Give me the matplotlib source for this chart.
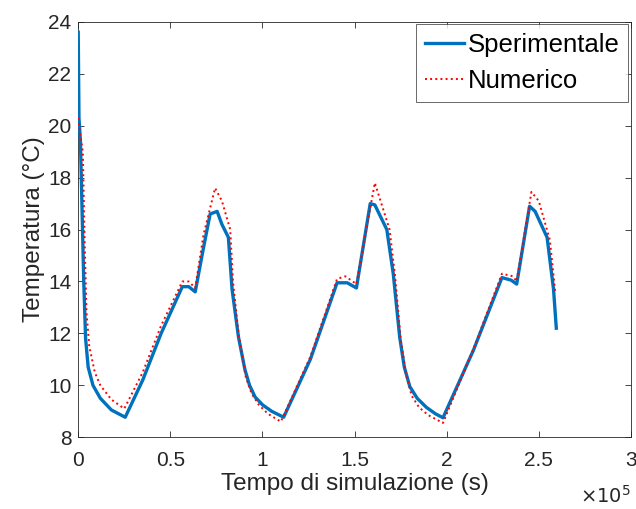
import numpy as np
import matplotlib
matplotlib.use("Agg")
import matplotlib.pyplot as plt
from matplotlib.ticker import FuncFormatter

plt.rcParams["font.family"] = ["Liberation Sans", "DejaVu Sans"]

# time in seconds, temperature in degC
t_exp = np.array([0, 0.004, 0.012, 0.02, 0.03, 0.04, 0.054, 0.08, 0.12, 0.18, 0.255,
                  0.35, 0.45, 0.565, 0.6, 0.635, 0.68, 0.716, 0.754, 0.78, 0.815,
                  0.835, 0.87, 0.905, 0.93, 0.96, 1.0, 1.05, 1.115, 1.26, 1.405, 1.46, 1.51,
                  1.585, 1.61, 1.675, 1.71, 1.745, 1.77, 1.80, 1.84, 1.89, 1.94, 1.98,
                  2.145, 2.30, 2.35, 2.38, 2.45, 2.48, 2.545, 2.58, 2.595]) * 1e5
T_exp = np.array([23.6, 20.3, 19.4, 17.0, 14.0, 11.8, 10.7, 10.0, 9.5, 9.05, 8.77,
                  10.2, 12.0, 13.8, 13.8, 13.6, 15.3, 16.6, 16.7, 16.2, 15.7,
                  13.7, 11.85, 10.6, 10.0, 9.55, 9.25, 9.0, 8.77, 11.0, 13.95, 13.95, 13.75,
                  17.0, 16.95, 16.0, 14.3, 11.85, 10.7, 9.95, 9.5, 9.15, 8.9, 8.75,
                  11.35, 14.15, 14.05, 13.9, 16.9, 16.7, 15.7, 13.7, 12.2])

t_num = np.array([0, 0.012, 0.025, 0.035, 0.045, 0.06, 0.09, 0.12, 0.18, 0.25,
                  0.35, 0.45, 0.565, 0.6, 0.635, 0.68, 0.743, 0.78, 0.825, 0.84,
                  0.87, 0.91, 0.94, 0.98, 1.03, 1.10, 1.26, 1.405, 1.45, 1.51, 1.61,
                  1.69, 1.72, 1.75, 1.78, 1.81, 1.85, 1.90, 1.98, 2.145, 2.30, 2.36, 2.38,
                  2.46, 2.50, 2.56, 2.59]) * 1e5
T_num = np.array([20.3, 19.6, 19.0, 15.5, 12.8, 11.5, 10.5, 10.0, 9.45, 9.1,
                  10.5, 12.3, 14.0, 14.0, 13.75, 15.8, 17.6, 17.1, 16.0, 14.0,
                  12.0, 10.3, 9.7, 9.25, 8.9, 8.6, 11.1, 14.1, 14.2, 13.9, 17.8,
                  16.0, 14.2, 11.8, 10.4, 9.6, 9.15, 8.85, 8.55, 11.4, 14.3, 14.2, 14.0,
                  17.45, 17.1, 15.6, 13.55])

AX_COL = "#262626"

fig = plt.figure(figsize=(6.36, 5.09), dpi=100)
ax = fig.add_axes([0.123, 0.141, 0.869, 0.816])

ax.plot(t_exp, T_exp, color="#0072BD", lw=2.4, label="Sperimentale", zorder=3)
ax.plot(t_num, T_num, color="#FF0000", lw=1.4, ls=":", label="Numerico", zorder=4)

ax.set_xlim(0, 3e5)
ax.set_ylim(8, 24)
ax.set_xticks(np.arange(0, 3.01e5, 0.5e5))
ax.set_yticks(np.arange(8, 25, 2))
ax.xaxis.set_major_formatter(FuncFormatter(lambda v, p: f"{v / 1e5:g}"))
ax.tick_params(direction="in", length=4, width=0.6, colors=AX_COL, labelsize=15,
               top=True, right=True)
ax.tick_params(axis="x", pad=10)
ax.tick_params(axis="y", pad=5)
for sp in ax.spines.values():
    sp.set_color(AX_COL)
    sp.set_linewidth(0.6)

ax.set_xlabel("Tempo di simulazione (s)", fontsize=17.5, color=AX_COL, labelpad=2)
ax.set_ylabel("Temperatura (°C)", fontsize=17.5, color=AX_COL, labelpad=2)
ax.text(1.0, -0.115, r"$\times10^5$", transform=ax.transAxes, ha="right", va="top",
        fontsize=14, color=AX_COL)

leg = ax.legend(loc="upper right", fontsize=18.5, frameon=True, fancybox=False,
                handlelength=1.5, handletextpad=0.15, borderpad=0.35,
                labelspacing=0.45, borderaxespad=0.1)
leg.get_frame().set_edgecolor(AX_COL)
leg.get_frame().set_linewidth(0.6)

fig.savefig("out.png", dpi=100)
